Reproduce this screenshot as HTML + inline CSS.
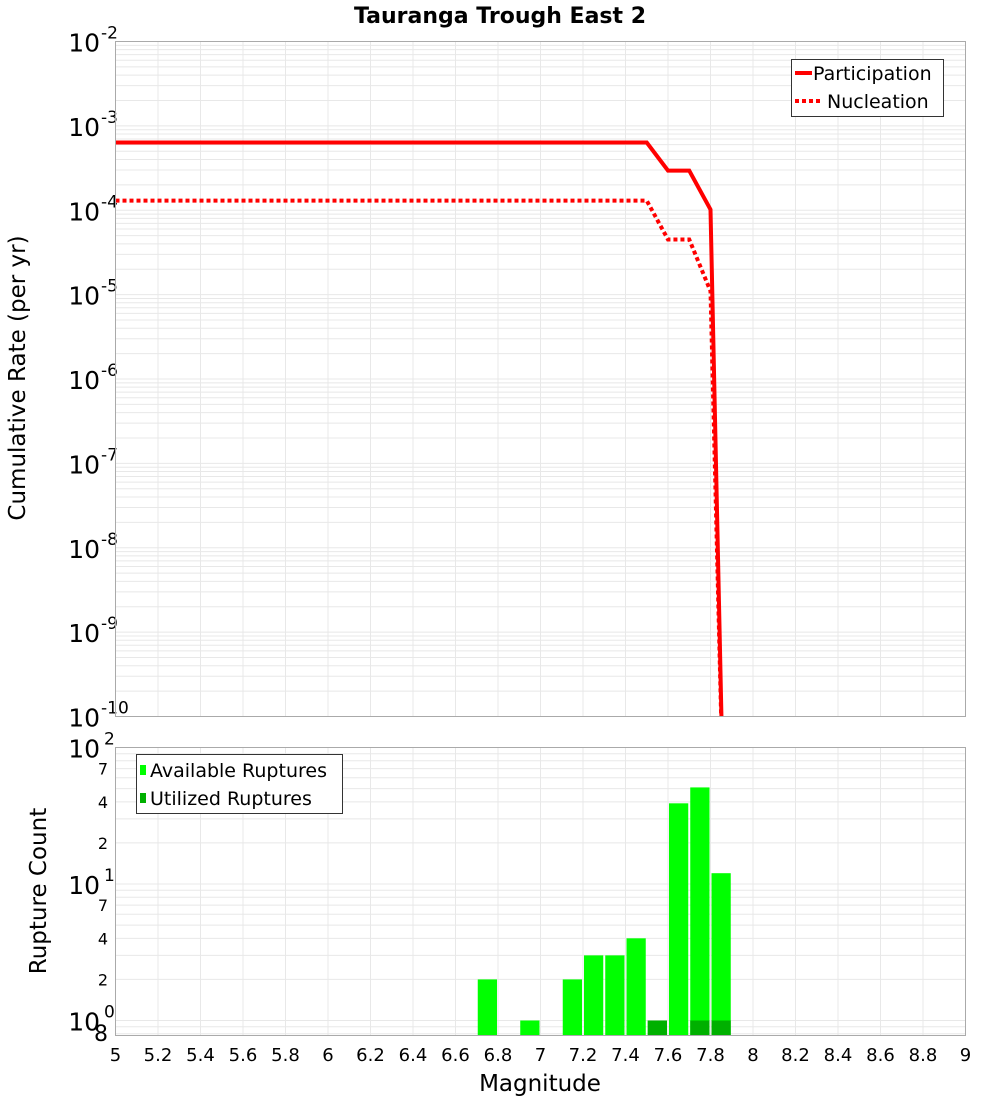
<!DOCTYPE html>
<html><head><meta charset="utf-8"><style>
body{margin:0;background:#fff;}
svg{display:block;font-family:"DejaVu Sans","Liberation Sans",sans-serif;}
</style></head><body>
<svg id="c" width="1000" height="1100" xmlns="http://www.w3.org/2000/svg"></svg>
<script>
const magsP=[5,7.5,7.6,7.7,7.8,7.86];
const partRate=[6.35e-4,6.35e-4,2.95e-4,2.95e-4,1.02e-4,1e-11];
const magsN=[5,7.5,7.6,7.7,7.8,7.86];
const nuclRate=[1.3e-4,1.3e-4,4.5e-5,4.5e-5,1.1e-5,1e-11];
const barMags=[6.75,6.95,7.15,7.25,7.35,7.45,7.55,7.65,7.75,7.85];
const availCount=[2,1,2,3,3,4,1,39,51,12];
const utilCount=[0,0,0,0,0,0,1,0,1,1];
const xTicks=[5,5.2,5.4,5.6,5.8,6,6.2,6.4,6.6,6.8,7,7.2,7.4,7.6,7.8,8,8.2,8.4,8.6,8.8,9];
const topDecades=[-2,-3,-4,-5,-6,-7,-8,-9,-10];
const botMinorLabels=[2,4,7];

const NS="http://www.w3.org/2000/svg";
const svg=document.getElementById('c');
function el(t,a,p){const e=document.createElementNS(NS,t);for(const k in a)e.setAttribute(k,a[k]);(p||svg).appendChild(e);return e;}
const L=115.5,R=965.5,T1=41.5,B1=716.5,T2=747.5,B2=1035.5;
const xs=m=>L+(m-5)/4*(R-L);
const y1=v=>T1+(-2-Math.log10(v))*(B1-T1)/8;
const y2=v=>1020.5-Math.log10(v)*136.5;

let t=el('text',{x:500,y:23,'text-anchor':'middle','font-size':22,'font-weight':'bold'});t.textContent='Tauranga Trough East 2';


const g=el('g',{stroke:'#e8e8e8','stroke-width':1});

xTicks.forEach(m=>{el('line',{x1:xs(m),x2:xs(m),y1:T1,y2:B1},g);el('line',{x1:xs(m),x2:xs(m),y1:T2,y2:B2},g);});
for(let d=-10;d<-2;d++)for(let k=1;k<10;k++){const y=y1(k*Math.pow(10,d));if(y>=T1&&y<=B1)el('line',{x1:L,x2:R,y1:y,y2:y},g);}
for(let d=-1;d<2;d++)for(let k=1;k<10;k++){const y=y2(k*Math.pow(10,d));if(y>=T2&&y<=B2)el('line',{x1:L,x2:R,y1:y,y2:y},g);}

topDecades.forEach(d=>{const y=y1(Math.pow(10,d));
 const tx=el('text',{x:100,y:y+10,'text-anchor':'end','font-size':25});tx.textContent='10';
 
 const s=el('text',{x:101,y:y-3,'font-size':17});s.textContent=String(d);
 });

const defs=el('defs',{});const cp=el('clipPath',{id:'cp1'},defs);el('rect',{x:L,y:T1,width:R-L,height:B1-T1},cp);

let d='';magsP.forEach((m,i)=>{d+=(i?'L':'M')+xs(m)+','+y1(partRate[i]);});
let p=el('path',{d:d,fill:'none',stroke:'#ff0000','stroke-width':4,'clip-path':'url(#cp1)'});

d='';magsN.forEach((m,i)=>{d+=(i?'L':'M')+xs(m)+','+y1(nuclRate[i]);});
p=el('path',{d:d,fill:'none',stroke:'#ff0000','stroke-width':4,'stroke-dasharray':'4 3','clip-path':'url(#cp1)'});


let f=el('rect',{x:L,y:T1,width:R-L,height:B1-T1,fill:'none',stroke:'#aaa'});


const lg=el('g',{});
el('rect',{x:791.5,y:59.5,width:152,height:57,fill:'#fff',stroke:'#333'},lg);
el('line',{x1:795,x2:812,y1:73,y2:73,stroke:'#f00','stroke-width':4},lg);
el('line',{x1:795,x2:822,y1:101,y2:101,stroke:'#f00','stroke-width':4,'stroke-dasharray':'4 3'},lg);
let lt=el('text',{x:813,y:80,'font-size':19},lg);lt.textContent='Participation';
lt=el('text',{x:827,y:108,'font-size':19},lg);lt.textContent='Nucleation';

t=el('text',{transform:'translate(25,378) rotate(-90)','text-anchor':'middle','font-size':23});t.textContent='Cumulative Rate (per yr)';


const bw=(R-L)/40;
barMags.forEach((m,i)=>{const x=xs(m)-bw/2+1;
 let r=el('rect',{x:x,y:y2(availCount[i]),width:bw-2,height:B2-y2(availCount[i]),fill:'#00ff00'});
 
 if(utilCount[i]>0){r=el('rect',{x:x,y:y2(utilCount[i]),width:bw-2,height:B2-y2(utilCount[i]),fill:'#00b000'});
 }
});
f=el('rect',{x:L,y:T2,width:R-L,height:B2-T2,fill:'none',stroke:'#aaa'});


[0,1,2].forEach(e=>{const y=y2(Math.pow(10,e));
 const tx=el('text',{x:100,y:y+10,'text-anchor':'end','font-size':25});tx.textContent='10';
 
 const s=el('text',{x:104,y:y-3,'font-size':17});s.textContent=String(e);
 });
[1,10].forEach(dec=>botMinorLabels.forEach(k=>{const y=y2(k*dec);
 const tx=el('text',{x:108,y:y+6,'text-anchor':'end','font-size':16});tx.textContent=String(k);
 }));
t=el('text',{x:108,y:1041,'text-anchor':'end','font-size':22});t.textContent='8';


const lb=el('g',{});
el('rect',{x:136.5,y:754.5,width:206,height:59,fill:'#fff',stroke:'#333'},lb);
el('rect',{x:140,y:765,width:6,height:10,fill:'#00ff00'},lb);
el('rect',{x:140,y:793,width:6,height:10,fill:'#00b000'},lb);
lt=el('text',{x:150,y:777,'font-size':19},lb);lt.textContent='Available Ruptures';
lt=el('text',{x:150,y:805,'font-size':19},lb);lt.textContent='Utilized Ruptures';

t=el('text',{transform:'translate(46,891) rotate(-90)','text-anchor':'middle','font-size':23});t.textContent='Rupture Count';


xTicks.forEach(m=>{const tx=el('text',{x:xs(m),y:1061,'text-anchor':'middle','font-size':18});tx.textContent=String(m);
 });
t=el('text',{x:540,y:1091,'text-anchor':'middle','font-size':23});t.textContent='Magnitude';

</script>
</body></html>
